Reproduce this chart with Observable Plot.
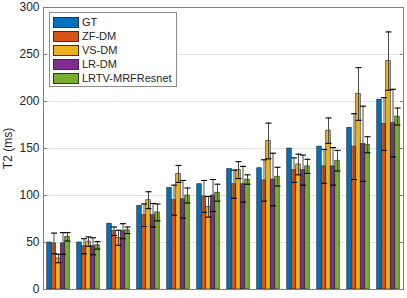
<!DOCTYPE html>
<html><head><meta charset="utf-8">
<script src="https://cdn.jsdelivr.net/npm/d3@7"></script>
<script src="https://cdn.jsdelivr.net/npm/@observablehq/plot@0.6"></script>
<style>
body{margin:0;background:#fff;font-family:"Liberation Sans",Arial,sans-serif;}
#wrap{position:relative;width:407px;height:298px;}
#legend{position:absolute;left:49px;top:12px;background:#fff;border:1px solid #8c8c8c;padding:2px 4px 1px 3px;font-size:11px;color:#262626;}
#legend .row{display:flex;align-items:center;height:14px;}
#legend .sw{width:24px;height:9px;border:0.5px solid #333;margin-right:3px;}
</style>
</head><body><div id="wrap"></div>
<script>
const series = ["GT", "ZF-DM", "VS-DM", "LR-DM", "LRTV-MRFResnet"];
const colors = ["#0072BD", "#D95319", "#EDB120", "#7E2F8E", "#77AC30"];
const groups = [1, 2, 3, 4, 5, 6, 7, 8, 9, 10, 11, 12];

const gtVals   = [50, 50, 70, 89, 108, 112, 128, 129, 150, 152, 172, 202];
const zfVals   = [49, 46, 62, 79, 95, 99, 112, 116, 127, 131, 152, 176];
const vsVals   = [33, 51, 55, 95, 123, 88, 127, 158, 133, 169, 208, 243];
const lrVals   = [49, 46, 62, 79, 96, 100, 112, 117, 127, 131, 155, 177];
const lrtvVals = [56, 47, 63, 82, 100, 103, 117, 120, 131, 137, 154, 184];

const gtErr   = null;
const zfErr   = [11, 8, 4.5, 12, 16, 17, 15, 22, 13, 18, 35, 28];
const vsErr   = [4.5, 5, 8, 9, 9, 11, 9, 19, 11, 13.5, 28, 31];
const lrErr   = [11.5, 9, 8, 12.5, 20, 17, 19, 28, 16, 20, 40, 36];
const lrtvErr = [4.5, 4, 3.5, 9, 8, 9, 5, 10, 7.5, 11, 8.5, 9];

const yTicks = [0, 50, 100, 150, 200, 250, 300];

const allVals = [gtVals, zfVals, vsVals, lrVals, lrtvVals];
const allErr = [gtErr, zfErr, vsErr, lrErr, lrtvErr];

const rows = [];
series.forEach((s, si) => groups.forEach((g, gi) => {
  rows.push({g, s, si, v: allVals[si][gi], e: allErr[si] ? allErr[si][gi] : null});
}));
const errRows = rows.filter(d => d.e != null);
const capRows = errRows.flatMap(d => [{...d, y: d.v - d.e}, {...d, y: d.v + d.e}]);

const bw = 0.75 / series.length;
const cx = d => d.g + (d.si - (series.length - 1) / 2) * bw;

const capSymbol = {
  draw(ctx, size) {
    const r = Math.sqrt(size / Math.PI);
    ctx.moveTo(-r, 0);
    ctx.lineTo(r, 0);
  }
};

const chart = Plot.plot({
  width: 407,
  height: 298,
  marginLeft: 43,
  marginRight: 4,
  marginTop: 7,
  marginBottom: 9,
  style: {fontFamily: '"Liberation Sans", Arial, sans-serif', fontSize: "12px", color: "#262626", background: "#fff"},
  x: {type: "linear", domain: [0.5, 12.5], axis: null},
  y: {domain: [0, 300], ticks: yTicks},
  color: {domain: series, range: colors},
  marks: [
    Plot.gridY(yTicks.slice(1, -1), {stroke: "#e3e3e3", strokeOpacity: 1}),
    Plot.rectY(rows, {
      x1: d => cx(d) - bw / 2,
      x2: d => cx(d) + bw / 2,
      y1: 0, y2: "v",
      fill: "s", stroke: "#1f1f1f", strokeWidth: 0.6
    }),
    Plot.ruleX(errRows, {x: cx, y1: d => d.v - d.e, y2: d => d.v + d.e, stroke: "#4a4a4a", strokeWidth: 1}),
    Plot.dot(capRows, {x: cx, y: "y", symbol: capSymbol, r: 3, stroke: "#000", strokeWidth: 1.1, fill: "none"}),
    Plot.frame({stroke: "#7f7f7f"}),
    Plot.axisY(yTicks, {tickSize: 0, tickPadding: 4, fontSize: 12, fill: "#262626",
      label: "T2 (ms)", labelAnchor: "center", labelArrow: "none", labelOffset: 40}),
    Plot.axisY(yTicks, {tickSize: 4, dx: 4, tickFormat: () => "", stroke: "#7f7f7f", label: null}),
    Plot.axisY(yTicks, {anchor: "right", tickSize: 4, dx: -4, tickFormat: () => "", stroke: "#7f7f7f", label: null})
  ]
});

const wrap = document.getElementById("wrap");
wrap.appendChild(chart);
const leg = document.createElement("div");
leg.id = "legend";
series.forEach((s, i) => {
  const r = document.createElement("div");
  r.className = "row";
  r.innerHTML = `<span class="sw" style="background:${colors[i]}"></span><span>${s}</span>`;
  leg.appendChild(r);
});
wrap.appendChild(leg);
</script>
</body></html>
